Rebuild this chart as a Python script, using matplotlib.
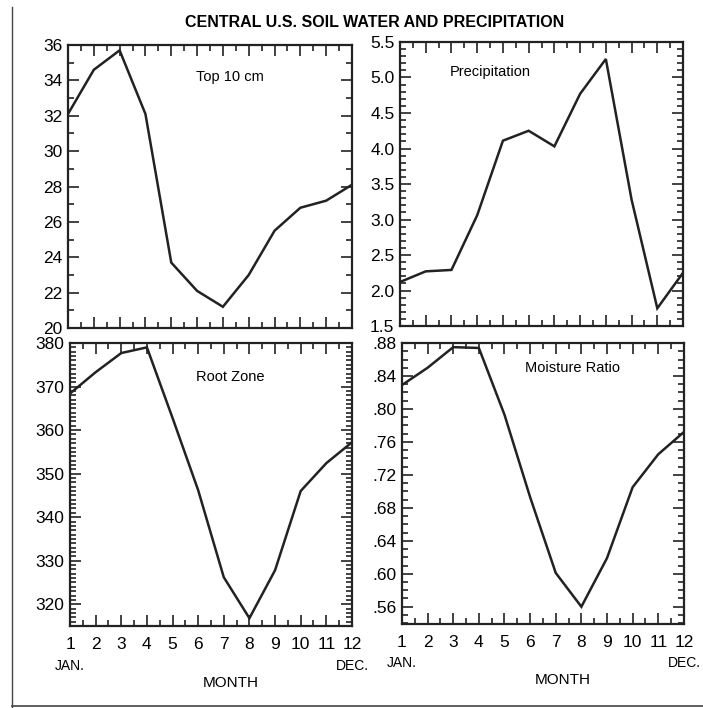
import matplotlib.pyplot as plt
from matplotlib.ticker import MultipleLocator, FuncFormatter
from matplotlib.lines import Line2D

plt.rcParams['font.family'] = ['Liberation Sans', 'DejaVu Sans']

months = [1, 2, 3, 4, 5, 6, 7, 8, 9, 10, 11, 12]
top10 = [32.1, 34.6, 35.7, 32.1, 23.7, 22.1, 21.2, 23.0, 25.5, 26.8, 27.2, 28.1]
precip = [2.12, 2.27, 2.29, 3.06, 4.11, 4.25, 4.03, 4.77, 5.26, 3.28, 1.75, 2.25]
root_zone = [368.4, 373.3, 377.7, 379.0, 362.8, 346.2, 326.2, 316.8, 327.8, 346.0, 352.4, 357.2]
moisture = [0.829, 0.850, 0.875, 0.874, 0.793, 0.693, 0.601, 0.560, 0.619, 0.705, 0.745, 0.772]

fig = plt.figure(figsize=(7.03, 7.08), dpi=100)
fig.text(0.533, 0.968, 'CENTRAL U.S. SOIL WATER AND PRECIPITATION',
         ha='center', va='center', fontsize=11.5, fontweight='bold')

# frame lines drawn on the original sheet
fig.add_artist(Line2D([0.017, 0.017], [0.0, 0.99], color='#444', lw=1))
fig.add_artist(Line2D([0.017, 1.0], [0.003, 0.003], color='#444', lw=1.2))

panels = [
    # rect, data, ylim, major, minor, fmt, label, label pos
    ([0.0967, 0.5367, 0.404, 0.3997], top10, (20, 36), 2, 1,
     lambda v, p: '%d' % v, 'Top 10 cm', (0.57, 0.887)),
    ([0.569, 0.5395, 0.4026, 0.4012], precip, (1.5, 5.5), 0.5, 0.1,
     lambda v, p: '%.1f' % v, 'Precipitation', (0.318, 0.894)),
    ([0.0996, 0.1158, 0.401, 0.3997], root_zone, (315, 380), 10, 1,
     lambda v, p: '%d' % round(v), 'Root Zone', (0.567, 0.88)),
    ([0.5718, 0.1186, 0.401, 0.3969], moisture, (0.539, 0.88), 0.04, 0.01,
     lambda v, p: ('%.2f' % v).lstrip('0'), 'Moisture Ratio', (0.606, 0.911)),
]

for i, (rect, vals, ylim, major, minor, fmt, label, lpos) in enumerate(panels):
    ax = fig.add_axes(rect)
    ax.plot(months, vals, color='#222', lw=1.8, solid_joinstyle='miter')
    ax.set_xlim(1, 12)
    ax.set_ylim(*ylim)
    ax.xaxis.set_major_locator(MultipleLocator(1))
    ax.xaxis.set_minor_locator(MultipleLocator(0.5))
    ax.yaxis.set_major_locator(MultipleLocator(major))
    ax.yaxis.set_minor_locator(MultipleLocator(minor))
    ax.yaxis.set_major_formatter(FuncFormatter(fmt))
    ax.tick_params(which='both', direction='in', top=True, right=True,
                   color='#222', width=1.2)
    ax.tick_params(which='major', length=8, labelsize=12.5, pad=4)
    ax.tick_params(which='minor', length=4)
    for s in ax.spines.values():
        s.set_linewidth(1.6)
        s.set_color('#222')
    ax.text(lpos[0], lpos[1], label, transform=ax.transAxes,
            ha='center', va='center', fontsize=10.5)
    if i < 2:
        ax.tick_params(axis='x', labelbottom=False)
    else:
        ax.tick_params(axis='x', pad=8)
        ax.text(0, -0.14, 'JAN.', transform=ax.transAxes, ha='center',
                va='center', fontsize=10)
        ax.text(1, -0.14, 'DEC.', transform=ax.transAxes, ha='center',
                va='center', fontsize=10)
        ax.text(0.57, -0.2, 'MONTH', transform=ax.transAxes, ha='center',
                va='center', fontsize=11)

fig.savefig('out.png', dpi=100)
